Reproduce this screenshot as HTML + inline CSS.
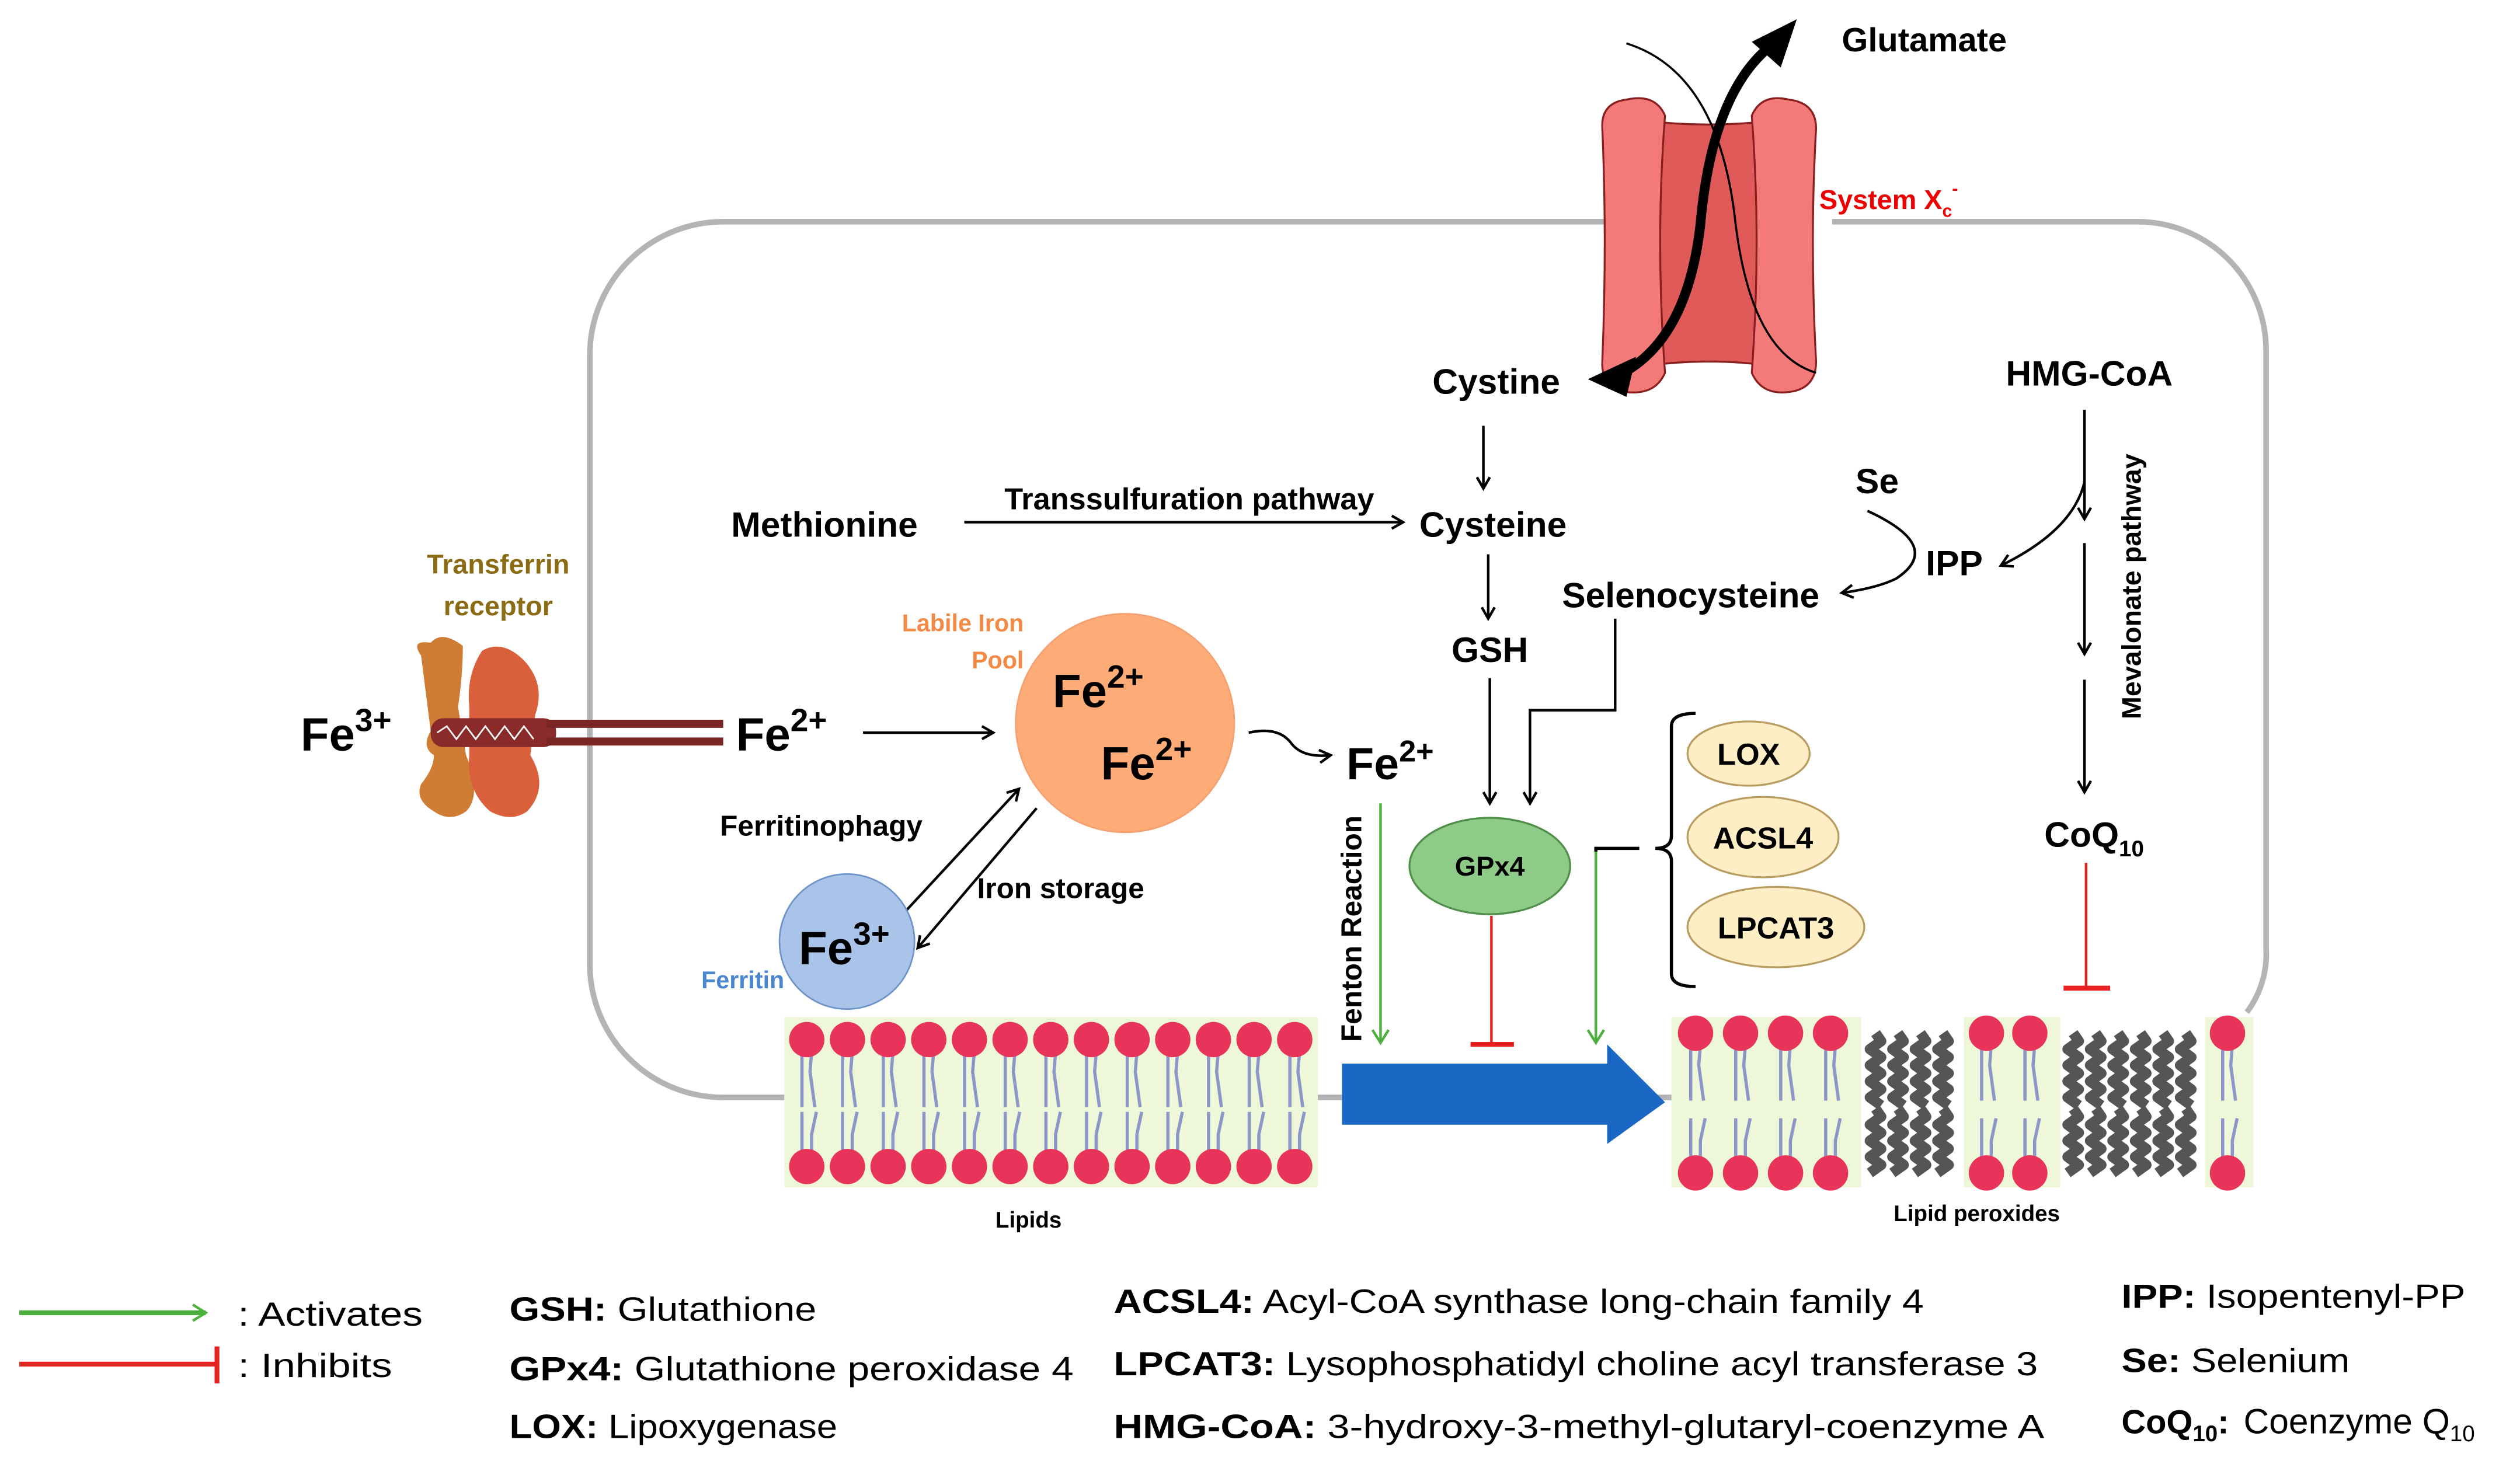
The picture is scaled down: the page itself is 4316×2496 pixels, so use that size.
<!DOCTYPE html>
<html><head><meta charset="utf-8"><style>
html,body{margin:0;padding:0;background:#fff}
svg{display:block}
text{font-family:"Liberation Sans",Arial,sans-serif}
.b{font-weight:bold}
</style></head><body>
<svg id="s" width="4316" height="2496" viewBox="0 0 1568 906.8" xmlns="http://www.w3.org/2000/svg">
<defs>
<marker id="ah" markerWidth="10" markerHeight="10" refX="8" refY="5" orient="auto" markerUnits="userSpaceOnUse"><path d="M1,1 L8,5 L1,9" fill="none" stroke="#000" stroke-width="1.6"/></marker>
<marker id="ag" markerWidth="12" markerHeight="12" refX="9" refY="6" orient="auto" markerUnits="userSpaceOnUse"><path d="M1,1 L9,6 L1,11" fill="none" stroke="#4cb03c" stroke-width="1.6"/></marker>
</defs>
<!-- membrane -->
<g fill="none" stroke="#b4b4b4" stroke-width="3.5">
<path d="M1003,138 L450,138 A83,83 0 0 0 367,221 L367,600 A83,83 0 0 0 450,683 L488,683"/>
<path d="M818,683 L1042,683"/>
<path d="M1140,138 L1330,138 A80,80 0 0 1 1410,218 L1410,590 A60,60 0 0 1 1398,630"/>
</g>
<!-- System Xc -->
<g stroke="#8a1f1f" stroke-width="1.2">
<path d="M1022,75 Q1063,80 1104,75 L1104,228 Q1063,222 1022,228 Z" fill="#e05a5a"/>
<path d="M1012,62 Q1030,58 1036,72 Q1030,150 1036,232 Q1030,246 1012,244 Q996,240 997,225 Q1000,150 997,80 Q996,64 1012,62 Z" fill="#f47a7a"/>
<path d="M1113,62 Q1130,64 1130,80 Q1126,150 1130,225 Q1130,242 1113,244 Q1096,246 1090,232 Q1096,150 1090,72 Q1096,58 1113,62 Z" fill="#f47a7a"/>
</g>
<path d="M1012,27 Q1070,45 1080,140 Q1090,220 1130,232" fill="none" stroke="#000" stroke-width="1.3"/>
<path d="M1010,232 Q1050,210 1058,140 Q1065,60 1100,30" fill="none" stroke="#000" stroke-width="6"/>
<path d="M1090,26 L1118,12 L1108,42 Z" fill="#000"/>
<path d="M1018,222 L988,236 L1012,247 Z" fill="#000"/>
<text x="1146" y="32" class="b" font-size="21">Glutamate</text>
<text x="1132" y="130" class="b" font-size="17" fill="#e00">System X<tspan font-size="11" dy="5">c</tspan><tspan font-size="11" dy="-14">-</tspan></text>
<!-- main text -->
<g class="b" font-size="22" text-anchor="middle">
<text x="931" y="245">Cystine</text>
<text x="929" y="334">Cysteine</text>
<text x="513" y="334">Methionine</text>
<text x="740" y="317" font-size="19">Transsulfuration pathway</text>
<text x="927" y="412">GSH</text>
<text x="1052" y="378">Selenocysteine</text>
<text x="1168" y="307">Se</text>
<text x="1216" y="358">IPP</text>
<text x="1300" y="240">HMG-CoA</text>
<text x="1303" y="527">CoQ<tspan font-size="14" dy="6">10</tspan></text>
</g>
<text transform="translate(1332,365) rotate(-90)" text-anchor="middle" class="b" font-size="17">Mevalonate pathway</text>
<text transform="translate(847,578) rotate(-90)" text-anchor="middle" class="b" font-size="18">Fenton Reaction</text>
<!-- arrows black -->
<g stroke="#000" stroke-width="1.6" fill="none" marker-end="url(#ah)">
<line x1="600" y1="325" x2="873" y2="325"/>
<line x1="923" y1="265" x2="923" y2="304"/>
<line x1="926" y1="345" x2="926" y2="385"/>
<line x1="927" y1="422" x2="927" y2="500"/>
<path d="M1005,385 L1005,442 L952,442 L952,500"/>
<path d="M1162,318 Q1210,340 1180,360 Q1168,366 1146,369"/>
<path d="M1297,300 Q1290,330 1245,352"/>
<line x1="1297" y1="255" x2="1297" y2="323"/>
<line x1="1297" y1="338" x2="1297" y2="407"/>
<line x1="1297" y1="423" x2="1297" y2="493"/>
<line x1="537" y1="456" x2="618" y2="456"/>
<path d="M777,456 Q795,452 803,462 Q810,472 828,470"/>
<line x1="558" y1="573" x2="634" y2="491"/>
<line x1="645" y1="503" x2="571" y2="590"/>
</g>
<!-- green / red -->
<g stroke="#4cb03c" stroke-width="1.6" fill="none" marker-end="url(#ag)">
<line x1="859" y1="500" x2="859" y2="649"/>
<line x1="993" y1="530" x2="993" y2="649"/>
</g>
<g stroke="#e82020" stroke-width="1.6">
<line x1="928" y1="570" x2="928" y2="650"/><line x1="915" y1="650" x2="942" y2="650" stroke-width="3"/>
<line x1="1298" y1="537" x2="1298" y2="615"/><line x1="1284" y1="615" x2="1313" y2="615" stroke-width="3"/>
</g>
<path d="M993,530 L993,528 L1020,528" fill="none" stroke="#000" stroke-width="2"/>
<path d="M1055,444 Q1040,444 1040,452 L1040,520 Q1040,528 1030,528 Q1040,528 1040,536 L1040,606 Q1040,614 1055,614" fill="none" stroke="#000" stroke-width="2"/>
<!-- enzymes -->
<g stroke="#b89c60" stroke-width="1.2" fill="#fdeec6">
<ellipse cx="1088" cy="469" rx="38" ry="20"/>
<ellipse cx="1097" cy="521" rx="47" ry="25"/>
<ellipse cx="1105" cy="577" rx="55" ry="25"/>
</g>
<ellipse cx="927" cy="539" rx="50" ry="30" fill="#8ecb88" stroke="#4f8f4a" stroke-width="1.2"/>
<g class="b" text-anchor="middle" font-size="19">
<text x="1088" y="476">LOX</text><text x="1097" y="528">ACSL4</text><text x="1105" y="584">LPCAT3</text>
<text x="927" y="545" font-size="17">GPx4</text>
</g>
<text x="865" y="485" text-anchor="middle" class="b" font-size="28">Fe<tspan font-size="19" dy="-11">2+</tspan></text>
<!-- iron -->
<circle cx="700" cy="450" r="68" fill="#fdac78" stroke="#f5a070"/>
<circle cx="527" cy="586" r="42" fill="#a9c4e8" stroke="#6f94c8"/>
<g class="b" font-size="29">
<text x="655" y="440">Fe<tspan font-size="20" dy="-12">2+</tspan></text>
<text x="685" y="485">Fe<tspan font-size="20" dy="-12">2+</tspan></text>
<text x="497" y="600">Fe<tspan font-size="20" dy="-12">3+</tspan></text>
<text x="458" y="467">Fe<tspan font-size="20" dy="-12">2+</tspan></text>
<text x="187" y="467">Fe<tspan font-size="20" dy="-12">3+</tspan></text>
</g>
<g font-size="15" class="b">
<text x="637" y="393" text-anchor="end" fill="#f28a45">Labile Iron</text>
<text x="637" y="416" text-anchor="end" fill="#f28a45">Pool</text>
<text x="488" y="615" text-anchor="end" fill="#4a86cf">Ferritin</text>
<text x="310" y="357" text-anchor="middle" fill="#8b6c14" font-size="17">Transferrin</text>
<text x="310" y="383" text-anchor="middle" fill="#8b6c14" font-size="17">receptor</text>
</g>
<g class="b" font-size="18">
<text x="448" y="520">Ferritinophagy</text>
<text x="608" y="559">Iron storage</text>
</g>
<!-- transferrin receptor -->
<g>
<path d="M262,408 Q255,398 268,400 Q275,392 288,402 Q288,420 285,440 L290,470 Q300,495 290,505 Q280,512 270,505 Q258,498 262,488 Q270,478 270,470 Q262,465 268,455 Z" fill="#cf7d34"/>
<path d="M300,405 Q312,398 325,410 Q340,425 333,445 L330,470 Q342,490 328,505 Q318,512 305,505 Q290,492 292,470 L292,440 Q290,420 300,405 Z" fill="#d9603a"/>
<rect x="268" y="447" width="78" height="18" rx="8" fill="#8a2a2a"/>
<path d="M272,456 l6,-4 l6,8 l6,-8 l6,8 l6,-8 l6,8 l6,-8 l6,8 l6,-8 l6,8" fill="none" stroke="#fff" stroke-width="1"/>
<rect x="340" y="448" width="110" height="5" fill="#7a2424"/>
<rect x="340" y="459" width="110" height="5" fill="#7a2424"/>
</g>
<!-- blue arrow -->
<path d="M835,662 L1000,662 L1000,650 L1036,686 L1000,712 L1000,700 L835,700 Z" fill="#1b68c4"/>
<!-- lipids -->
<rect x="488" y="633" width="332" height="106" fill="#eef7d8"/>
<rect x="1040" y="633" width="118" height="106" fill="#eef7d8"/>
<rect x="1222" y="633" width="60" height="106" fill="#eef7d8"/>
<rect x="1372" y="633" width="30" height="106" fill="#eef7d8"/>
<g id="lip"></g>
<text x="640" y="764" text-anchor="middle" class="b" font-size="14">Lipids</text>
<text x="1230" y="760" text-anchor="middle" class="b" font-size="14">Lipid peroxides</text>
<!-- legend -->
<line x1="12" y1="817" x2="128" y2="817" stroke="#4cb03c" stroke-width="3" marker-end="url(#ag)"/>
<line x1="12" y1="849" x2="135" y2="849" stroke="#e82020" stroke-width="3"/>
<line x1="135" y1="838" x2="135" y2="861" stroke="#e82020" stroke-width="3"/>
<g font-size="21">
<text x="148" y="825" textLength="115" lengthAdjust="spacingAndGlyphs">: Activates</text>
<text x="148" y="857" textLength="96" lengthAdjust="spacingAndGlyphs">: Inhibits</text>
<text x="317" y="822" textLength="191" lengthAdjust="spacingAndGlyphs"><tspan class="b">GSH:</tspan> Glutathione</text>
<text x="317" y="859" textLength="351" lengthAdjust="spacingAndGlyphs"><tspan class="b">GPx4:</tspan> Glutathione peroxidase 4</text>
<text x="317" y="895" textLength="204" lengthAdjust="spacingAndGlyphs"><tspan class="b">LOX:</tspan> Lipoxygenase</text>
<text x="693" y="817" textLength="504" lengthAdjust="spacingAndGlyphs"><tspan class="b">ACSL4:</tspan> Acyl-CoA synthase long-chain family 4</text>
<text x="693" y="856" textLength="575" lengthAdjust="spacingAndGlyphs"><tspan class="b">LPCAT3:</tspan> Lysophosphatidyl choline acyl transferase 3</text>
<text x="693" y="895" textLength="579" lengthAdjust="spacingAndGlyphs"><tspan class="b">HMG-CoA:</tspan> 3-hydroxy-3-methyl-glutaryl-coenzyme A</text>
<text x="1320" y="814" textLength="214" lengthAdjust="spacingAndGlyphs"><tspan class="b">IPP:</tspan> Isopentenyl-PP</text>
<text x="1320" y="854" textLength="142" lengthAdjust="spacingAndGlyphs"><tspan class="b">Se:</tspan> Selenium</text>
<text x="1320" y="892"><tspan class="b">CoQ<tspan font-size="14" dy="5">10</tspan><tspan dy="-5">:</tspan></tspan><tspan dx="3" font-size="22"> Coenzyme Q</tspan><tspan font-size="14" dy="5">10</tspan></text>
</g>
</svg>
<script>
var g=document.getElementById('lip'),h='';
function lipid(x,t,b){
 h+='<path d="M'+(x-3)+','+(t+8)+' L'+(x-3)+','+(t+42)+' M'+(x+3)+','+(t+8)+' L'+(x+2)+','+(t+20)+' L'+(x+5)+','+(t+42)+'" stroke="#8c96c8" stroke-width="2" fill="none"/>';
 h+='<path d="M'+(x-3)+','+(b-8)+' L'+(x-3)+','+(b-34)+' M'+(x+3)+','+(b-8)+' L'+(x+3)+','+(b-20)+' L'+(x+6)+','+(b-34)+'" stroke="#8c96c8" stroke-width="2" fill="none"/>';
 h+='<circle cx="'+x+'" cy="'+t+'" r="11" fill="#e8345a"/><circle cx="'+x+'" cy="'+b+'" r="11" fill="#e8345a"/>';
}
for(var i=0;i<13;i++)lipid(502+i*25.3,647,726);
[1055,1083,1111,1139,1236,1263,1386].forEach(function(x){lipid(x,643,730);});
function squig(x,y1,y2){var d='M'+x+','+y1;var k=0;for(var y=y1;y<y2;y+=5){k++;d+=' L'+(x+(k%2?3.5:-3.5))+','+(y+5);}
 h+='<path d="'+d+'" stroke="#555" stroke-width="6.5" fill="none" stroke-linejoin="round"/>';}
[1167,1181,1195,1209,1290,1304,1318,1332,1346,1360].forEach(function(x){squig(x,643,684);squig(x,690,730);});
g.innerHTML=h;
</script>
</body></html>
